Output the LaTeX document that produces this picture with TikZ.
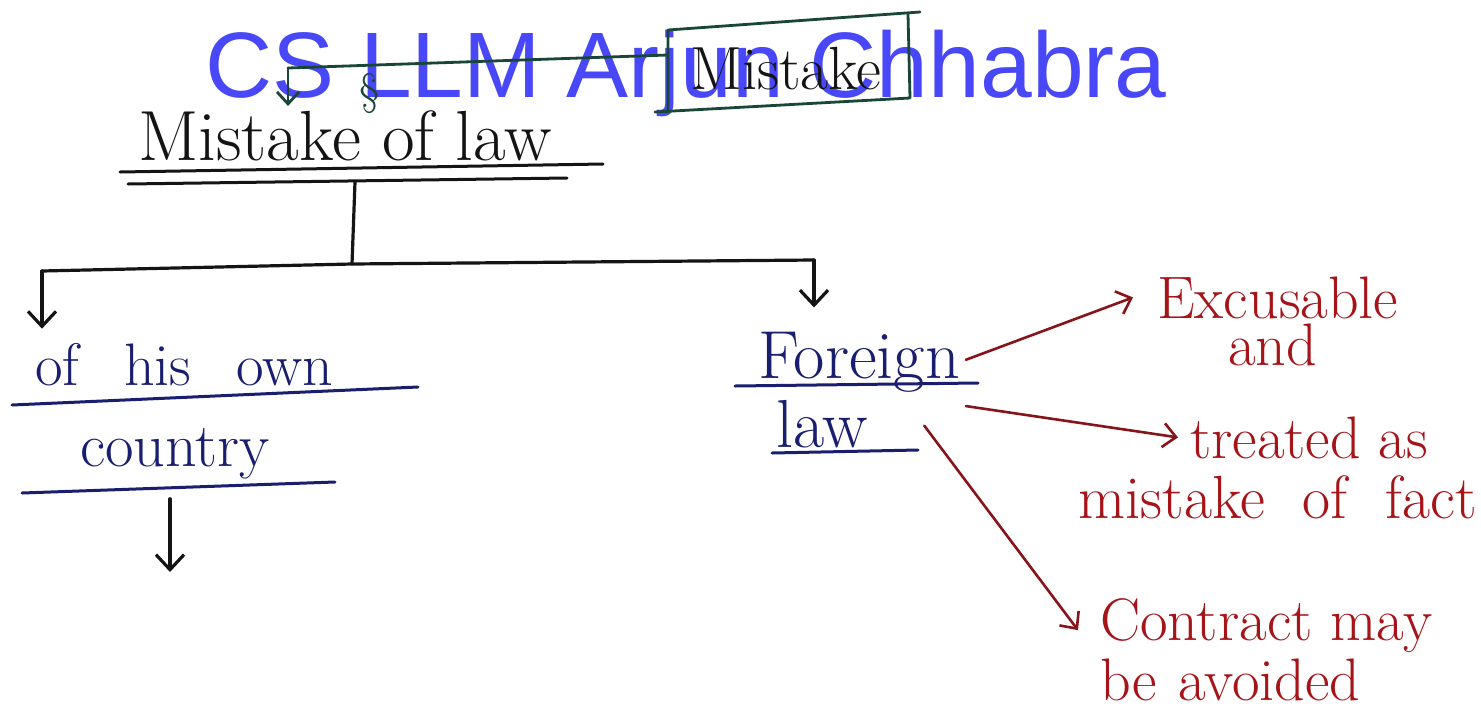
\documentclass[tikz,border=0pt]{standalone}
\usepackage{fontspec}
\newfontfamily\wmfont{Liberation Sans}
\usetikzlibrary{arrows.meta,calc}
\definecolor{wmblue}{RGB}{72,72,248}
\definecolor{ink}{RGB}{20,20,20}
\definecolor{navy}{RGB}{25,30,110}
\definecolor{redink}{RGB}{165,20,25}
\definecolor{redarr}{RGB}{135,20,25}
\definecolor{gink}{RGB}{25,70,55}
\begin{document}
\begin{tikzpicture}[x=1pt,y=-1pt,
  hw/.style={inner sep=0pt, anchor=base west, font=\fontsize{60}{62}\selectfont},
  big/.style={font=\fontsize{68}{70}\selectfont},
  conn/.style={draw=ink, line width=3.2pt, line cap=round, line join=round},
  arr/.style={conn, -{Straight Barb[length=15pt,width=28pt]}},
  gconn/.style={draw=gink, line width=2.8pt, line cap=round, line join=round},
  garr/.style={gconn, -{Straight Barb[length=12pt,width=22pt]}},
  uline/.style={line width=3pt, line cap=round},
  rarr/.style={draw=redarr, line width=2.6pt, line cap=round, -{Straight Barb[length=13pt,width=24pt]}}
]
\useasboundingbox (0,0) rectangle (1481,713);
\fill[white] (0,0) rectangle (1481,713);

% watermark
\node[anchor=base west, inner sep=0pt, text=wmblue, font=\wmfont\fontsize{93}{93}\selectfont] (wm) at (205,97) {CS LLM Arjun Chhabra};

% Mistake box
\node[hw, text=ink, font=\fontsize{61}{62}\selectfont] (mst) at (690,89) {Mistake};
\draw[gconn] (668,112) -- (668,30) -- (920,12);
\draw[gconn] (655,112) -- (910,98) -- (908,14);
\coordinate (bl) at (668,55);
\coordinate (cr) at (288,68);

% title
\node[hw, text=ink, font=\fontsize{71}{72}\selectfont] (mol) at (138,160) {Mistake of law};
\draw[uline, ink] (120,172) -- (603,164);
\draw[uline, ink] (128,184) -- (567,178);
\draw[gconn] (bl) -- (cr);
\draw[garr, shorten >=4pt] (cr) -- (cr |- mol.north);
\node[text=gink, inner sep=0pt, font=\fontsize{44}{44}\selectfont] (sec) at (370,93) {\S};

% tree
\coordinate (tt) at (355,182);
\coordinate (j) at (352,264);
\coordinate (lc) at (42,271);
\coordinate (rc) at (814,260);
\draw[conn] (tt) -- (j);
\draw[conn] (lc) -- (j) -- (rc);

% left branch
\node[hw, text=navy] (own) at (35,385) {\spaceskip=45pt plus 4pt\relax of his own};
\draw[uline, navy] (12,405) -- (418,387);
\node[hw, text=navy, font=\fontsize{62}{64}\selectfont] (co) at (80,466) {country};
\draw[uline, navy] (22,493) -- (335,482);
\coordinate (dn) at (170,572);
\draw[arr, shorten >=14pt] (lc) -- (lc |- own.north);
\draw[arr] ([yshift=-20pt]co.south -| dn) -- (dn);

% right branch
\node[hw, big, text=navy] (fo) at (758,378) {Foreign};
\draw[uline, navy] (735,386) -- (978,383);
\node[hw, big, text=navy] (la) at (776,447) {law};
\draw[uline, navy] (772,453) -- (918,450);
\draw[arr, shorten >=24pt] (rc) -- (rc |- fo.north);

% red results
\node[hw, text=redink] (ex) at (1157,318) {Excusable};
\node[hw, text=redink] (an) at (1228,365) {and};
\node[hw, text=redink] (tr) at (1190,458) {treated as};
\node[hw, text=redink, font=\fontsize{61}{62}\selectfont] (mf) at (1078,518) {\spaceskip=38pt\relax mistake of fact};
\node[hw, text=redink] (cm) at (1100,640) {Contract may};
\node[hw, text=redink] (bv) at (1100,700) {\spaceskip=22pt\relax be avoided};

\draw[rarr] ([xshift=6pt,yshift=2pt]fo.east) -- ([xshift=-24pt]ex.west);
\draw[rarr] ([xshift=6pt,yshift=-14pt]fo.south east) -- ([xshift=-12pt]tr.west);
\draw[rarr] ([xshift=56pt,yshift=-2pt]la.east) -- ([xshift=-22pt,yshift=-5pt]cm.west);
\end{tikzpicture}
\end{document}
